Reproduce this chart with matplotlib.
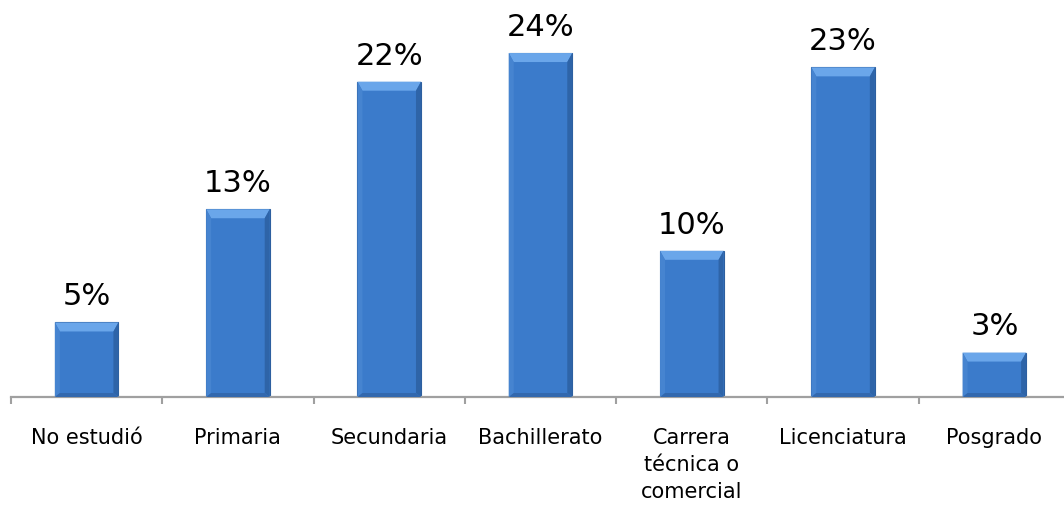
import matplotlib
matplotlib.use("Agg")
import matplotlib.pyplot as plt
from matplotlib.patches import Polygon
from matplotlib.transforms import IdentityTransform
import numpy as np

categories = ["No estudió", "Primaria", "Secundaria", "Bachillerato",
              "Carrera\ntécnica o\ncomercial", "Licenciatura", "Posgrado"]
values = [5.2, 13.1, 22.0, 24.0, 10.2, 23.0, 3.1]
labels = ["5%", "13%", "22%", "24%", "10%", "23%", "3%"]

W, H = 1064, 507
fig = plt.figure(figsize=(W / 100, H / 100), dpi=100)
fig.patch.set_facecolor("white")
ax = fig.add_axes([11 / W, 110 / H, 1059 / W, 397 / H])
ax.set_facecolor("none")

x = np.arange(len(categories))
bw = 0.42
bars = ax.bar(x, values, width=bw, color="#3b7bcb", edgecolor="#2d5f9f",
              linewidth=0.8, zorder=2)
ax.set_xlim(-0.5, len(categories) - 0.5)
ax.set_ylim(0, 27.7)

# bevel effect
fig.canvas.draw()
bev_top, bev_side, bev_bot = 9, 5, 4
for b in bars:
    (x0, y0), (x1, y1) = ax.transData.transform(
        [(b.get_x(), 0), (b.get_x() + b.get_width(), b.get_height())])
    polys = [
        ([(x0, y1), (x1, y1), (x1 - bev_side, y1 - bev_top), (x0 + bev_side, y1 - bev_top)], "#6aa6ea"),
        ([(x0, y0), (x0, y1), (x0 + bev_side, y1 - bev_top), (x0 + bev_side, y0 + bev_bot)], "#4684d0"),
        ([(x1, y0), (x1, y1), (x1 - bev_side, y1 - bev_top), (x1 - bev_side, y0 + bev_bot)], "#2e64a8"),
        ([(x0, y0), (x1, y0), (x1 - bev_side, y0 + bev_bot), (x0 + bev_side, y0 + bev_bot)], "#3268ae"),
    ]
    for pts, c in polys:
        ax.add_patch(Polygon(pts, closed=True, facecolor=c, edgecolor="none",
                             transform=IdentityTransform(), zorder=3))

for xi, v, lab in zip(x, values, labels):
    ax.annotate(lab, (xi, v), xytext=(0, 8), textcoords="offset points",
                ha="center", va="bottom", fontsize=22, color="black",
                family="DejaVu Sans")

for s in ["top", "right", "left"]:
    ax.spines[s].set_visible(False)
ax.spines["bottom"].set_color("#a0a0a0")
ax.spines["bottom"].set_linewidth(1.6)
ax.set_yticks([])
ax.set_xticks(x)
ax.set_xticklabels(categories, fontsize=15, linespacing=1.45, va="top")
ax.tick_params(axis="x", which="major", length=0, pad=22)
ax.set_xticks(np.arange(-0.5, len(categories)), minor=True)
ax.tick_params(axis="x", which="minor", length=5, width=1.5, color="#a0a0a0",
               direction="out")

fig.savefig("out.png", dpi=100, facecolor="white")
